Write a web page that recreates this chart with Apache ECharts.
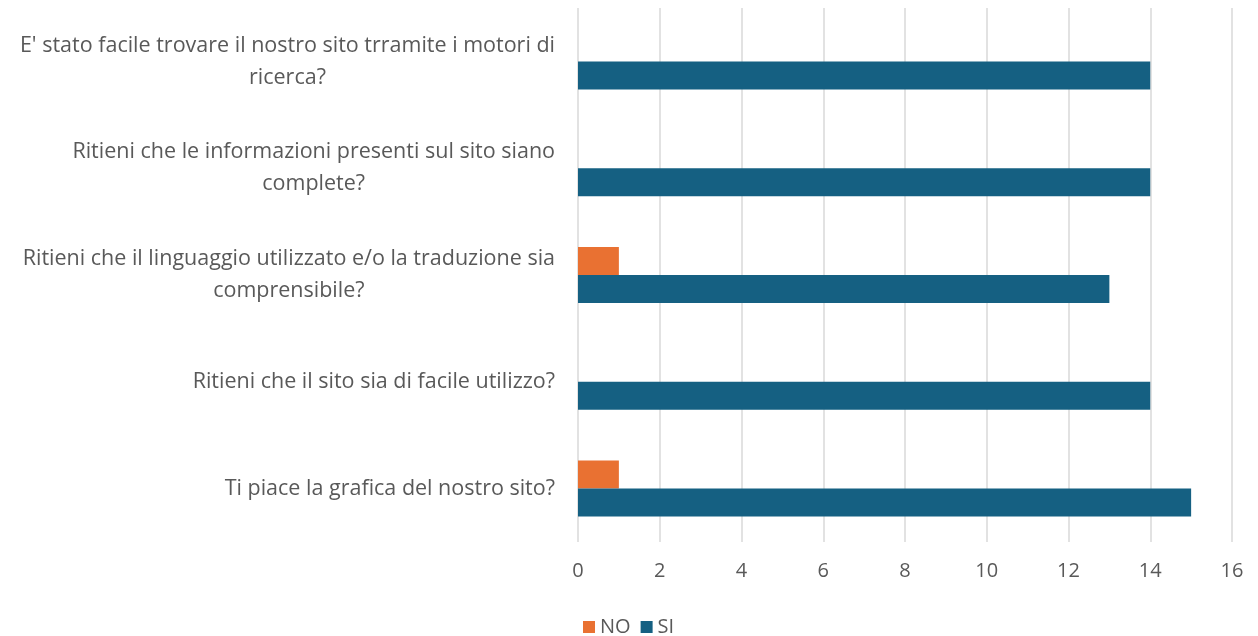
<!DOCTYPE html>
<html>
<head>
<meta charset="utf-8">
<script src="https://cdn.jsdelivr.net/npm/echarts@6/dist/echarts.min.js"></script>
<style>
  html, body { margin: 0; padding: 0; background: #fff; }
  #chart { width: 1258px; height: 636px; }
</style>
</head>
<body>
<div id="chart"></div>
<script>
// domande, dall'alto verso il basso
var categories = [
  "E' stato facile trovare il nostro sito trramite i motori di\nricerca?",
  'Ritieni che le informazioni presenti sul sito siano\ncomplete?',
  'Ritieni che il linguaggio utilizzato e/o la traduzione sia\ncomprensibile?',
  'Ritieni che il sito sia di facile utilizzo?',
  'Ti piace la grafica del nostro sito?'
]
var dataNO = [0, 0, 1, 0, 1]
var dataSI = [14, 14, 13, 14, 15]
var xTicks = { min: 0, max: 16, interval: 2 }

var textColor = '#595959'
var font = 'Open Sans'

var chart = echarts.init(document.getElementById('chart'))
var option = {
  backgroundColor: '#fff',
  animation: false,
  textStyle: { fontFamily: font },
  grid: {
    left: 578,
    right: 26,
    top: 8,
    bottom: 94,
    containLabel: false
  },
  legend: {
    top: 612,
    left: 578,
    itemWidth: 12,
    itemHeight: 12,
    itemGap: 10,
    icon: 'rect',
    textStyle: { color: textColor, fontSize: 20, fontFamily: font },
    data: ['NO', 'SI']
  },
  xAxis: {
    type: 'value',
    min: xTicks.min,
    max: xTicks.max,
    interval: xTicks.interval,
    axisLine: { show: false },
    axisTick: { show: false },
    axisLabel: { color: textColor, fontSize: 20, margin: 19 },
    splitLine: { lineStyle: { color: '#d9d9d9', width: 1.5 } }
  },
  yAxis: {
    type: 'category',
    inverse: true,
    data: categories,
    axisLine: { show: false },
    axisTick: { show: false },
    axisLabel: {
      margin: 23,
      color: textColor,
      fontSize: 21.5,
      lineHeight: 32,
      formatter: function (v) {
        return v.split('\n').map(function (l) { return '{c|' + l + '}' }).join('\n')
      },
      rich: {
        c: { align: 'center', color: textColor, fontSize: 21.5, lineHeight: 32, fontFamily: font }
      }
    }
  },
  series: [
    {
      name: 'NO',
      type: 'bar',
      data: dataNO,
      barWidth: 28,
      barGap: '0%',
      itemStyle: { color: '#E97132' }
    },
    {
      name: 'SI',
      type: 'bar',
      data: dataSI,
      barWidth: 28,
      barGap: '0%',
      itemStyle: { color: '#156082' }
    }
  ]
}
chart.setOption(option, true)
</script>
</body>
</html>
